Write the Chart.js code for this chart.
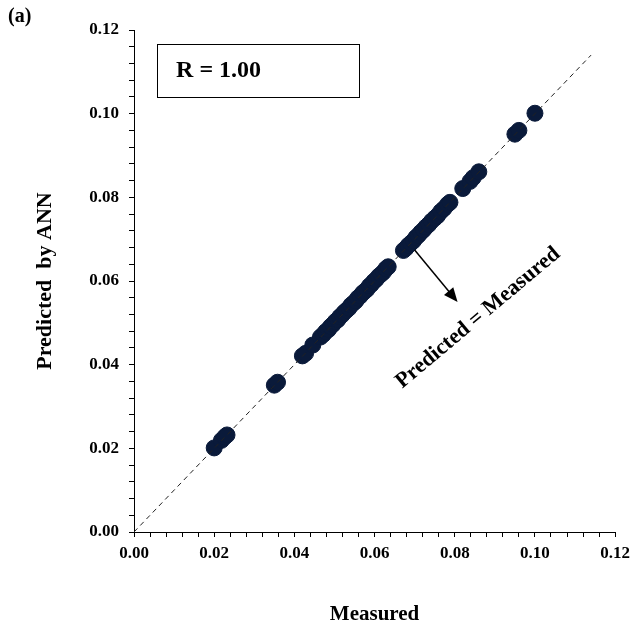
<!DOCTYPE html>
<html>
<head>
  <meta charset="UTF-8">
  <title>Predicted by ANN vs Measured</title>
  <script src="https://cdn.jsdelivr.net/npm/chart.js"></script>
  <style>
    body {
      margin: 0;
      background: #fff;
    }
  </style>
</head>
<body>
  <canvas id="chart" width="636" height="633"></canvas>

  <script>
    // measured vs predicted values
    const measured = [
      0.0200, 0.0218, 0.0226, 0.0232, 0.0350, 0.0358, 0.0420, 0.0428, 0.0446,
      0.0465, 0.0472, 0.0478, 0.0485, 0.0490, 0.0496, 0.0502, 0.0508, 0.0513,
      0.0519, 0.0524, 0.0530, 0.0536, 0.0541, 0.0547, 0.0553, 0.0558, 0.0564,
      0.0570, 0.0575, 0.0581, 0.0587, 0.0592, 0.0598, 0.0604, 0.0610, 0.0616,
      0.0622, 0.0628, 0.0634, 0.0672, 0.0678, 0.0684, 0.0690, 0.0697, 0.0703,
      0.0709, 0.0715, 0.0722, 0.0728, 0.0735, 0.0742, 0.0750, 0.0757, 0.0765,
      0.0773, 0.0782, 0.0788, 0.0820, 0.0838, 0.0846, 0.0860, 0.0950, 0.0960,
      0.1000
    ];
    const predicted = [
      0.0201, 0.0219, 0.0227, 0.0232, 0.0351, 0.0358, 0.0421, 0.0427, 0.0447,
      0.0466, 0.0472, 0.0479, 0.0484, 0.0491, 0.0496, 0.0503, 0.0507, 0.0514,
      0.0519, 0.0525, 0.0530, 0.0535, 0.0542, 0.0547, 0.0552, 0.0559, 0.0564,
      0.0571, 0.0575, 0.0580, 0.0588, 0.0592, 0.0599, 0.0604, 0.0611, 0.0616,
      0.0621, 0.0629, 0.0634, 0.0673, 0.0678, 0.0685, 0.0690, 0.0696, 0.0704,
      0.0709, 0.0716, 0.0722, 0.0729, 0.0735, 0.0743, 0.0750, 0.0756, 0.0766,
      0.0773, 0.0783, 0.0788, 0.0821, 0.0838, 0.0847, 0.0861, 0.0951, 0.0960,
      0.1001
    ];
    // 1:1 reference line
    const lineX = [0, 0.114];
    const lineY = [0, 0.114];

    const serif = '"Liberation Serif", "DejaVu Serif", serif';

    const annotations = {
      id: 'annotations',
      afterDraw(chart) {
        const ctx = chart.ctx;
        const x = chart.scales.x;
        const y = chart.scales.y;
        ctx.save();
        ctx.fillStyle = '#000';
        ctx.strokeStyle = '#000';

        // panel label
        ctx.font = 'bold 20px ' + serif;
        ctx.textBaseline = 'middle';
        ctx.textAlign = 'left';
        ctx.fillText('(a)', 8, 17);

        // R box
        const bx0 = x.getPixelForValue(0.0057), bx1 = x.getPixelForValue(0.056);
        const by0 = y.getPixelForValue(0.1167), by1 = y.getPixelForValue(0.104);
        ctx.lineWidth = 1;
        ctx.strokeRect(Math.round(bx0) + 0.5, Math.round(by0) + 0.5, Math.round(bx1 - bx0), Math.round(by1 - by0));
        ctx.font = 'bold 24px ' + serif;
        ctx.fillText('R = 1.00', x.getPixelForValue(0.0105), y.getPixelForValue(0.1103));

        // arrow
        const ax0 = x.getPixelForValue(0.0700), ay0 = y.getPixelForValue(0.0674);
        const ax1 = x.getPixelForValue(0.0807), ay1 = y.getPixelForValue(0.0550);
        const ang = Math.atan2(ay1 - ay0, ax1 - ax0);
        ctx.lineWidth = 1.5;
        ctx.beginPath();
        ctx.moveTo(ax0, ay0);
        ctx.lineTo(ax1 - 8 * Math.cos(ang), ay1 - 8 * Math.sin(ang));
        ctx.stroke();
        ctx.beginPath();
        ctx.moveTo(ax1, ay1);
        ctx.lineTo(ax1 - 14 * Math.cos(ang) + 6 * Math.sin(ang), ay1 - 14 * Math.sin(ang) - 6 * Math.cos(ang));
        ctx.lineTo(ax1 - 14 * Math.cos(ang) - 6 * Math.sin(ang), ay1 - 14 * Math.sin(ang) + 6 * Math.cos(ang));
        ctx.closePath();
        ctx.fill();

        // rotated note
        ctx.translate(x.getPixelForValue(0.0858), y.getPixelForValue(0.0512));
        ctx.rotate(-40 * Math.PI / 180);
        ctx.font = 'bold 22px ' + serif;
        ctx.textAlign = 'center';
        ctx.fillText('Predicted = Measured', 0, 0);
        ctx.restore();
      }
    };

    // label only the 0.02 steps, the rest stay as minor tick marks
    const tickLabel = v => {
      const k = Math.round(v * 1000);
      return k % 20 === 0 ? (k / 1000).toFixed(2) : '';
    };

    new Chart(document.getElementById('chart'), {
      type: 'scatter',
      data: {
        datasets: [
          {
            type: 'line',
            data: lineX.map((v, i) => ({ x: v, y: lineY[i] })),
            borderColor: '#222',
            borderWidth: 1,
            borderDash: [5, 4],
            pointRadius: 0,
            order: 0
          },
          {
            data: measured.map((v, i) => ({ x: v, y: predicted[i] })),
            backgroundColor: '#0a1a3a',
            borderColor: '#0a1a3a',
            pointRadius: 8,
            order: 1
          }
        ]
      },
      options: {
        responsive: false,
        animation: false,
        layout: { padding: { top: 30, right: 20, left: 0, bottom: 0 } },
        plugins: { legend: { display: false }, tooltip: { enabled: false } },
        scales: {
          x: {
            type: 'linear',
            min: 0,
            max: 0.12,
            afterFit: s => { s.height = 101; },
            border: { display: true, color: '#000', width: 1 },
            grid: { drawOnChartArea: false, drawTicks: true, tickLength: 5, color: '#000' },
            ticks: {
              stepSize: 0.004,
              autoSkip: false,
              maxRotation: 0,
              padding: 6,
              color: '#000',
              font: { family: serif, size: 17, weight: 'bold' },
              callback: tickLabel
            },
            title: {
              display: true,
              text: 'Measured',
              color: '#000',
              font: { family: serif, size: 21, weight: 'bold' },
              padding: { top: 0, bottom: 6 }
            }
          },
          y: {
            type: 'linear',
            min: 0,
            max: 0.12,
            afterFit: s => { s.width = 134; },
            border: { display: true, color: '#000', width: 1 },
            grid: { drawOnChartArea: false, drawTicks: true, tickLength: 5, color: '#000' },
            ticks: {
              stepSize: 0.004,
              autoSkip: false,
              padding: 10,
              color: '#000',
              font: { family: serif, size: 17, weight: 'bold' },
              callback: tickLabel
            },
            title: {
              display: true,
              text: 'Predicted  by ANN',
              color: '#000',
              font: { family: serif, size: 22, weight: 'bold' },
              padding: { top: 32, bottom: 0 }
            }
          }
        }
      },
      plugins: [annotations]
    });
  </script>
</body>
</html>
